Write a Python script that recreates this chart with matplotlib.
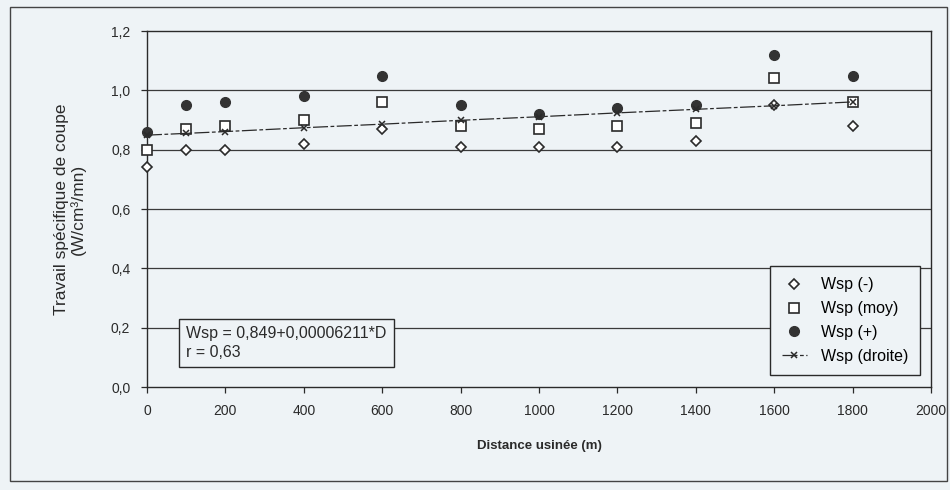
import matplotlib.pyplot as plt
from matplotlib.patches import Rectangle

plt.rcParams['font.family'] = ['Liberation Sans', 'DejaVu Sans']

# data
distance = [0, 100, 200, 400, 600, 800, 1000, 1200, 1400, 1600, 1800]
wsp_min = [0.74, 0.80, 0.80, 0.82, 0.87, 0.81, 0.81, 0.81, 0.83, 0.95, 0.88]
wsp_moy = [0.80, 0.87, 0.88, 0.90, 0.96, 0.88, 0.87, 0.88, 0.89, 1.04, 0.96]
wsp_max = [0.86, 0.95, 0.96, 0.98, 1.05, 0.95, 0.92, 0.94, 0.95, 1.12, 1.05]
wsp_droite = [0.849, 0.855, 0.861, 0.874, 0.886, 0.899, 0.911, 0.924, 0.936, 0.948, 0.961]

y_ticks = [0.0, 0.2, 0.4, 0.6, 0.8, 1.0, 1.2]
x_ticks = [0, 200, 400, 600, 800, 1000, 1200, 1400, 1600, 1800, 2000]

bg = '#eef3f6'
ink = '#2a2a2a'

fig = plt.figure(figsize=(9.5, 4.9), dpi=100, facecolor=bg)
ax = fig.add_axes([0.1547, 0.2102, 0.8253, 0.7265], facecolor=bg)

# outer chart frame
fig.patches.append(Rectangle((0.011, 0.018), 0.986, 0.967, transform=fig.transFigure,
                             fill=False, edgecolor='#444444', lw=1.0))

# horizontal gridlines
for v in y_ticks[1:-1]:
    ax.axhline(v, color='#3a3a3a', lw=0.9, zorder=1)

ax.plot(distance, wsp_min, linestyle='none', marker='D', markersize=5.5,
        markerfacecolor='white', markeredgecolor=ink, markeredgewidth=1.2,
        label='Wsp (-)', zorder=3, clip_on=False)
ax.plot(distance, wsp_moy, linestyle='none', marker='s', markersize=7,
        markerfacecolor='white', markeredgecolor=ink, markeredgewidth=1.2,
        label='Wsp (moy)', zorder=3, clip_on=False)
ax.plot(distance, wsp_max, linestyle='none', marker='o', markersize=7,
        markerfacecolor='#333333', markeredgecolor='#333333',
        label='Wsp (+)', zorder=3, clip_on=False)
ax.plot(distance, wsp_droite, linestyle=(0, (12, 2, 3, 2)), lw=0.9, color=ink,
        marker='x', markersize=5, markeredgewidth=1.1,
        label='Wsp (droite)', zorder=4, clip_on=False)

ax.set_xlim(0, 2000)
ax.set_ylim(0, 1.2)
ax.set_xticks(x_ticks)
ax.set_yticks(y_ticks)
ax.set_xticklabels([str(t) for t in x_ticks])
ax.set_yticklabels([f'{t:.1f}'.replace('.', ',') for t in y_ticks])
ax.tick_params(direction='out', length=4, width=0.9, colors=ink,
               labelsize=10, pad=8)

for s in ax.spines.values():
    s.set_color(ink)
    s.set_linewidth(1.0)

ax.set_xlabel('Distance usinée (m)', fontsize=9.5, fontweight='bold', color=ink, labelpad=16)
ax.set_ylabel('Travail spécifique de coupe\n(W/cm³/mn)', fontsize=12.5,
              color=ink, labelpad=18, linespacing=1.1)

leg = ax.legend(loc='lower right', bbox_to_anchor=(0.986, 0.034), fontsize=11.5,
                frameon=True, fancybox=False, edgecolor=ink, facecolor=bg,
                framealpha=1, handlelength=1.6, handletextpad=0.9,
                borderpad=0.7, labelspacing=0.55, borderaxespad=0)
leg.get_frame().set_linewidth(1.0)

ax.text(0.05, 0.124, 'Wsp = 0,849+0,00006211*D\nr = 0,63', transform=ax.transAxes,
        fontsize=11.5, color=ink, va='center', ha='left', linespacing=1.3,
        bbox=dict(boxstyle='square,pad=0.45', facecolor=bg, edgecolor=ink, lw=1.0),
        zorder=5)

fig.savefig('out.png', dpi=100, facecolor=bg)
